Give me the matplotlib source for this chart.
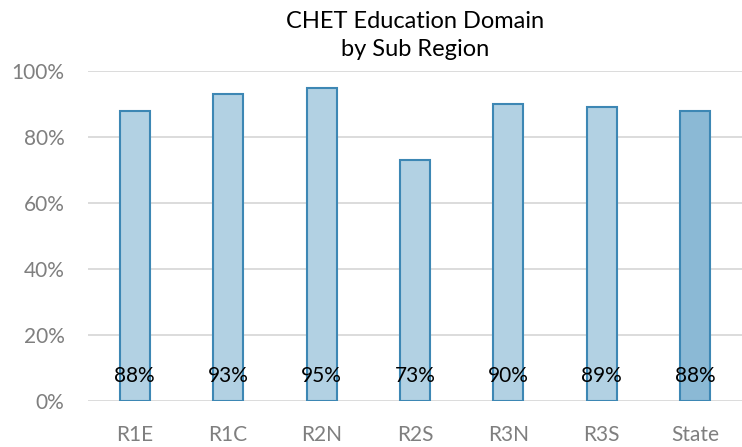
import matplotlib.pyplot as plt
import numpy as np

regions = ['R1E', 'R1C', 'R2N', 'R2S', 'R3N', 'R3S', 'State']
values = [88, 93, 95, 73, 90, 89, 88]

plt.rcParams['font.family'] = ['Lato', 'DejaVu Sans']

fig = plt.figure(figsize=(7.42, 4.47), dpi=100)
ax = fig.add_axes([88 / 742, 46 / 447, 654 / 742, 330 / 447])

x = np.arange(len(regions))
fills = ['#b2d1e3'] * (len(regions) - 1) + ['#8bb9d5']
ax.bar(x, values, width=0.32, color=fills, edgecolor='#3d87b4', linewidth=1.5, zorder=3)

for xi, v in zip(x, values):
    ax.text(xi, 7.5, f'{v}%', ha='center', va='center', fontsize=15, color='black', zorder=4)

ax.set_xlim(-0.5, len(regions) - 0.5)
ax.set_ylim(0, 100)
ax.set_yticks(range(0, 101, 20))
ax.set_yticklabels([f'{t}%' for t in range(0, 101, 20)])
ax.set_xticks(x)
ax.set_xticklabels(regions)
ax.grid(axis='y', color='#d9d9d9', linewidth=1.3, zorder=0)
for s in ax.spines.values():
    s.set_visible(False)
ax.tick_params(length=0, labelsize=15, labelcolor='#7f7f7f')
ax.tick_params(axis='y', pad=17)
ax.tick_params(axis='x', pad=17)

ax.set_title('CHET Education Domain\nby Sub Region', fontsize=17, color='black', pad=11, linespacing=1.4)

plt.savefig('out.png', dpi=100)
